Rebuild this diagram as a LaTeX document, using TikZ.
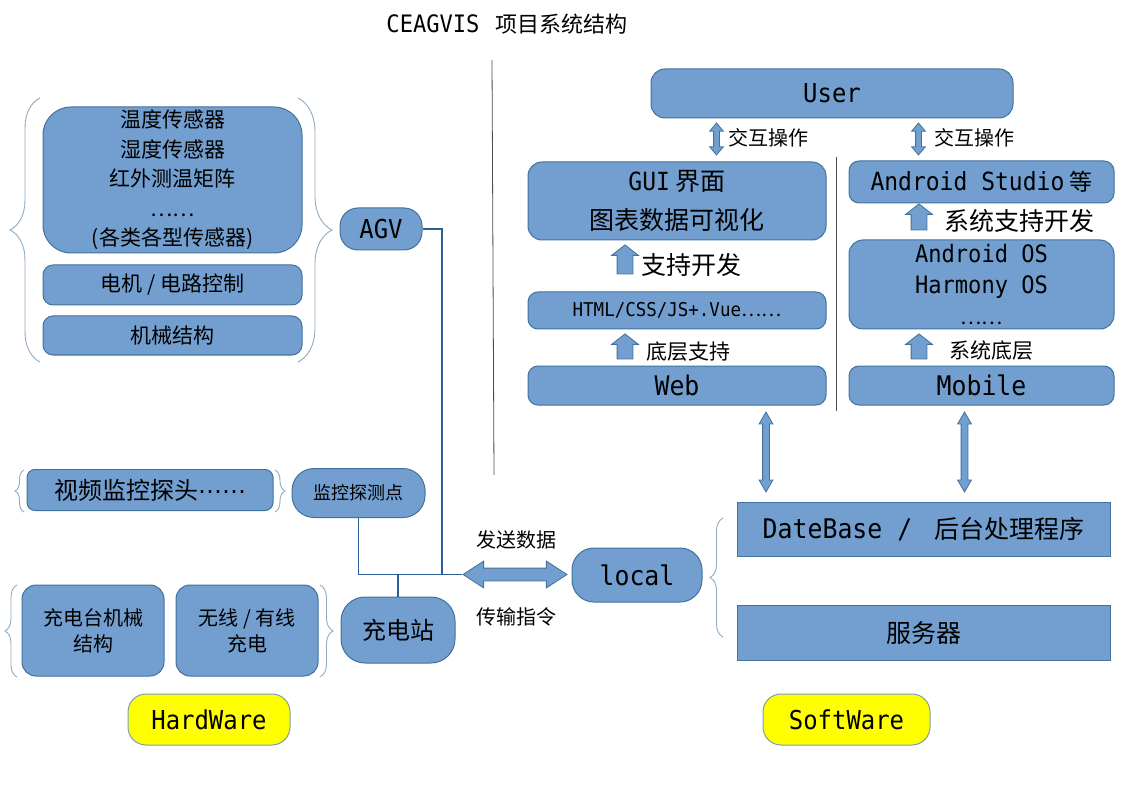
\documentclass[tikz,border=0pt]{standalone}
\usepackage{fontspec}
\setmainfont{Noto Sans CJK SC}
\setmonofont[FakeStretch=0.92]{DejaVu Sans Mono}
\newfontfamily\symfont{DejaVu Sans}
\usetikzlibrary{shapes.arrows,decorations.pathreplacing,positioning,calc}
\definecolor{boxfill}{HTML}{729FCF}
\definecolor{boxline}{HTML}{41719C}
\definecolor{wire}{HTML}{2F5D9A}
\definecolor{tagfill}{HTML}{FFFF00}
\newcommand{\fs}[2]{\fontsize{#1}{#2}\selectfont}
\tikzset{
  blk/.style={draw=boxline,fill=boxfill,line width=1pt,rounded corners=10pt,
              align=center,inner sep=0pt},
  sqblk/.style={blk,rounded corners=0pt},
  pill/.style={blk,rounded corners=18pt},
  tag/.style={pill,fill=tagfill,draw=boxline!70},
  link/.style={draw=wire,line width=1.1pt},
  grp/.style={draw=boxline!60,line width=0.9pt,decorate,
              decoration={brace,amplitude=#1}},
  uparr/.style={single arrow,draw=boxline,fill=boxfill,line width=0.8pt,rotate=90,
                inner xsep=0pt,inner ysep=7.5pt,single arrow head extend=5.5pt,
                single arrow tip angle=104,minimum height=#1},
  vdbl/.style={double arrow,draw=boxline,fill=boxfill,line width=0.8pt,rotate=90,
               inner xsep=0pt,inner ysep=3pt,double arrow head extend=3.5pt,
               double arrow tip angle=60,minimum height=#1},
  lbl/.style={anchor=west,inner sep=0pt},
}

\begin{document}
\begin{tikzpicture}[x=1pt,y=-1pt]
\useasboundingbox (0,0) rectangle (1122,794);

% --- title and dividers ---
\node[font=\fs{22}{26}] (title) at (507,24) {{\ttfamily\fs{24}{28}CEAGVIS}\hspace{16pt}项目系统结构};
\draw[gray!60!black,line width=0.8pt] (492,60) -- (494,475);
\draw[gray!60!black,line width=0.8pt] (836,157) -- (836,411);

% --- hardware: AGV ---
\node[blk,rounded corners=28pt,minimum width=259,minimum height=146,font=\fs{21}{29.5}]
  (sens) at (172.5,180) {温度传感器\\湿度传感器\\红外测温矩阵\\……\\(各类各型传感器)};
\node[blk,minimum width=259,minimum height=40,font=\fs{21}{25}] (motor) at (172.5,285) {电机 / 电路控制};
\node[blk,minimum width=259,minimum height=39,font=\fs{21}{25}] (mech) at (172.5,335.5) {机械结构};
\node[pill,minimum width=82,minimum height=42,font=\fs{26}{30}\ttfamily] (agv) at (381,229) {AGV};
\draw[grp=30] (40,362) -- (40,98);
\draw[grp=34] (298,98) -- (298,362);

% --- hardware: probes ---
\node[blk,rounded corners=8pt,minimum width=246,minimum height=41,font=\fs{24}{28}] (video) at (150,490) {视频监控探头{\symfont ⋯⋯}};
\node[pill,rounded corners=22pt,minimum width=133,minimum height=49,font=\fs{18}{22}] (probe) at (358.5,493) {监控探测点};
\draw[grp=9] (24,512) -- (24,470);
\draw[grp=10] (275,470) -- (275,512);

% --- hardware: charging ---
\node[blk,rounded corners=14pt,minimum width=142,minimum height=91,font=\fs{20}{26}] (chgmech) at (93,630.5) {充电台机械\\结构};
\node[blk,rounded corners=14pt,minimum width=142,minimum height=91,font=\fs{20}{26}] (charge) at (247,630.5) {无线 / 有线\\充电};
\node[pill,rounded corners=24pt,minimum width=114,minimum height=66,font=\fs{24}{28}] (station) at (398,630) {充电站};
\draw[grp=12] (17,677) -- (17,585);
\draw[grp=13] (320,585) -- (320,677);

\node[tag,minimum width=162,minimum height=51,font=\fs{26}{30}\ttfamily] (hw) at (209,719.5) {HardWare};

% --- link between both sides ---
\node[double arrow,draw=boxline,fill=boxfill,line width=0.8pt,inner xsep=0pt,inner ysep=6pt,
      double arrow head extend=7pt,double arrow tip angle=66,minimum height=104]
  (xfer) at (515,574.5) {};
\node[pill,rounded corners=22pt,minimum width=130,minimum height=54,font=\fs{27}{31}\ttfamily] (local) at (637,575) {local};
\node[font=\fs{20}{24}] (send) at (516,540) {发送数据};
\node[font=\fs{20}{24}] (cmd) at (516,617) {传输指令};

\coordinate (bus) at (442,574);
\draw[link] (agv.east) -| (bus);
\draw[link] (probe.south) |- (xfer.west);
\draw[link] (station.north) -- (station.north |- bus);

% --- software: back end ---
\node[sqblk,minimum width=373,minimum height=54,font=\fs{25}{29}] (db) at (923.5,529)
  {{\ttfamily\fs{27}{31}DateBase /}\hspace{22pt}后台处理程序};
\node[sqblk,minimum width=373,minimum height=55,font=\fs{25}{29}] (server) at (923.5,632.5) {服务器};
\draw[grp=13] (723,637) -- (723,518);

\node[tag,minimum width=167,minimum height=51,font=\fs{26}{30}\ttfamily] (sw) at (846.5,719.5) {SoftWare};

% --- software: user and web ---
\node[blk,rounded corners=14pt,minimum width=362,minimum height=49,font=\fs{26}{30}\ttfamily] (user) at (832,93.5) {User};
\node[blk,rounded corners=14pt,minimum width=298,minimum height=78,font=\fs{25}{39}] (gui) at (677,201)
  {{\ttfamily\fs{25}{39}GUI} 界面\\图表数据可视化};
\node[blk,minimum width=298,minimum height=37,font=\fs{19}{22}] (html) at (677,310.5) {{\ttfamily HTML/CSS/JS+.Vue}……};
\node[blk,minimum width=298,minimum height=39,font=\fs{27}{31}\ttfamily] (web) at (677,385.5) {Web};

% --- software: mobile ---
\node[blk,minimum width=265,minimum height=42,font=\fs{23}{27}] (studio) at (981.5,182) {{\ttfamily\fs{25}{27}Android Studio} 等};
\node[blk,rounded corners=14pt,minimum width=265,minimum height=89,font=\fs{24}{31}\ttfamily] (os) at (981.5,284.5)
  {Android OS\\Harmony OS\\{\rmfamily\fs{20}{31}……}};
\node[blk,minimum width=265,minimum height=39,font=\fs{27}{31}\ttfamily] (mobile) at (981.5,385.5) {Mobile};

% --- block arrows ---
\node[vdbl=32,inner ysep=2.5pt,double arrow head extend=4pt,double arrow tip angle=80] (ux1) at (716.5,139) {};
\node[vdbl=32,inner ysep=2.5pt,double arrow head extend=4pt,double arrow tip angle=80] (ux2) at (918.5,139) {};
\node[lbl,font=\fs{20}{24}] (op1) at (728,138) {交互操作};
\node[lbl,font=\fs{20}{24}] (op2) at (934,138) {交互操作};

\node[uparr=29] (dev1) at (625,262.5) {};
\node[lbl,font=\fs{25}{29}] (dev1t) at (641,265) {支持开发};
\node[uparr=25] (dev2) at (625,349.5) {};
\node[lbl,font=\fs{21}{25}] (dev2t) at (646,352) {底层支持};
\node[uparr=26] (dev3) at (919,220) {};
\node[lbl,font=\fs{25}{29}] (dev3t) at (944,221) {系统支持开发};
\node[uparr=25] (dev4) at (919,349.5) {};
\node[lbl,font=\fs{21}{25}] (dev4t) at (949,351) {系统底层};

\node[vdbl=80] (webdb) at (766,452) {};
\node[vdbl=80] (mobdb) at (964.5,452) {};

\end{tikzpicture}
\end{document}
